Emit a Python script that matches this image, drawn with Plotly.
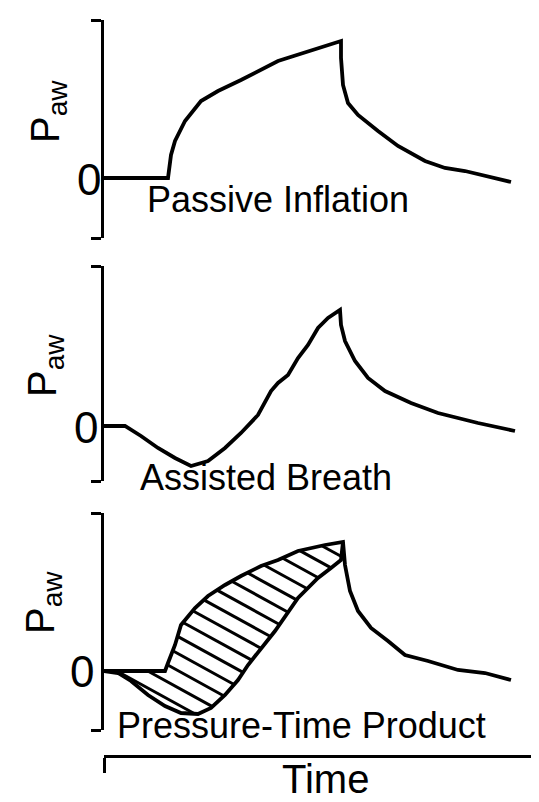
import numpy as np
import plotly.graph_objects as go

W, H = 539, 802
LEFT = 96  # pixel x of the pressure axes

# time axis (arbitrary units) and pressure (arbitrary units, 0 = baseline)
TIME_RANGE = [0, 443]

passive_t = [0, 64, 67, 71, 81, 97, 114, 137, 174, 204, 234, 237, 237, 239, 244, 254,
             274, 294, 321, 341, 361, 381, 407]
passive_p = [0, 0, 23, 37, 57, 77, 87, 98, 117, 127, 137, 137, 120, 93, 75, 63,
             47, 32, 17, 10, 7, 2, -4]

assisted_t = [0, 21, 37, 54, 71, 87, 104, 121, 137, 154, 167, 174, 184, 194, 204, 214,
              224, 236, 237, 241, 251, 264, 281, 307, 334, 354, 374, 411]
assisted_p = [0, 0, -10, -22, -32, -40, -35, -22, -7, 11, 35, 43, 51, 68, 81, 98,
              108, 116, 101, 85, 65, 48, 35, 23, 13, 8, 3, -5]

ptp_upper_t = [0, 61, 64, 71, 77, 91, 104, 121, 137, 157, 174, 194, 221, 239]
ptp_upper_p = [0, 0, 8, 26, 46, 63, 75, 86, 95, 105, 111, 120, 126, 129]
ptp_decay_t = [239, 241, 246, 254, 267, 284, 301, 324, 354, 381, 407]
ptp_decay_p = [129, 106, 80, 60, 43, 30, 16, 10, 1, -2, -9]
ptp_lower_t = [0, 14, 27, 44, 61, 77, 94, 107, 121, 134, 144, 157, 171, 194, 214, 227, 237, 239]
ptp_lower_p = [0, -2, -10, -24, -35, -42, -43, -37, -24, -9, 6, 23, 40, 73, 93, 103, 111, 129]

PANEL_LABELS = ["Passive Inflation", "Assisted Breath", "Pressure-Time Product"]
Y_RANGES = [[-60, 158], [-55, 160], [-59, 158]]
PANEL_PX = [(12, 230), (258, 473), (505, 722)]  # top / bottom pixel of each bracket
TIME_AXIS_PX = 748

LABEL_PX = [(137, 192), (130, 469), (107, 717)]
ZERO_PX = [(81, 171), (78, 419), (74, 663)]
PAW_PX = [(40, 104), (37, 358), (35, 595)]


def px2paper(x, y):
    return (x - LEFT) / (W - LEFT), 1 - y / H


def hatch(ut, up, lt, lp, slope, spacing):
    poly = list(zip(ut, up)) + list(zip(lt[::-1], lp[::-1]))
    offs = [p - slope * t for t, p in poly]
    xs, ys = [], []
    for c in np.arange(min(offs) + spacing * 0.5, max(offs), spacing):
        hits = []
        for (x1, y1), (x2, y2) in zip(poly, poly[1:] + poly[:1]):
            f1 = y1 - slope * x1 - c
            f2 = y2 - slope * x2 - c
            if (f1 > 0) != (f2 > 0):
                s = f1 / (f1 - f2)
                hits.append(x1 + s * (x2 - x1))
        hits.sort()
        for a, b in zip(hits[0::2], hits[1::2]):
            xs += [a, b, None]
            ys += [slope * a + c, slope * b + c, None]
    return xs, ys


fig = go.Figure()
black = "#000000"
curve = dict(color=black, width=3.8)

fig.add_trace(go.Scatter(x=passive_t, y=passive_p, mode="lines", line=curve, xaxis="x", yaxis="y"))
fig.add_trace(go.Scatter(x=assisted_t, y=assisted_p, mode="lines", line=curve, xaxis="x", yaxis="y2"))

# hatching of the pressure-time product area (pixel slope ~0.55 down to the right)
plot_w = W - LEFT
sx = plot_w / (TIME_RANGE[1] - TIME_RANGE[0])
sy = (PANEL_PX[2][1] - PANEL_PX[2][0]) / (Y_RANGES[2][1] - Y_RANGES[2][0])
hx, hy = hatch(ptp_upper_t, ptp_upper_p, ptp_lower_t, ptp_lower_p,
               slope=-0.55 * sx / sy, spacing=17 / sy)
fig.add_trace(go.Scatter(x=hx, y=hy, mode="lines", line=dict(color=black, width=3),
                         xaxis="x", yaxis="y3"))
fig.add_trace(go.Scatter(x=ptp_upper_t + ptp_decay_t[1:], y=ptp_upper_p + ptp_decay_p[1:],
                         mode="lines", line=curve, xaxis="x", yaxis="y3"))
fig.add_trace(go.Scatter(x=ptp_lower_t, y=ptp_lower_p, mode="lines", line=curve,
                         xaxis="x", yaxis="y3"))

layout = dict(
    width=W, height=H,
    margin=dict(l=LEFT, r=0, t=0, b=0),
    paper_bgcolor="white", plot_bgcolor="white",
    showlegend=False,
    font=dict(family="Liberation Sans, Arial, sans-serif", color=black),
    xaxis=dict(domain=[0, 1], range=TIME_RANGE, anchor="free", position=1 - TIME_AXIS_PX / H,
               showline=True, linecolor=black, linewidth=2.8, ticks="outside",
               tickvals=[TIME_RANGE[0]], ticklen=15, tickwidth=2.8, tickcolor=black,
               showticklabels=False, showgrid=False, zeroline=False),
)

annotations = []
for i in range(3):
    key = "yaxis" if i == 0 else f"yaxis{i + 1}"
    top, bot = PANEL_PX[i]
    lo, hi = Y_RANGES[i]
    layout[key] = dict(domain=[1 - bot / H, 1 - top / H], range=[lo, hi], anchor="x",
                       showline=True, linecolor=black, linewidth=3, ticks="outside",
                       tickvals=[lo, hi], ticklen=10, tickwidth=3, tickcolor=black,
                       showticklabels=False, showgrid=False, zeroline=False)
    lx, ly = px2paper(*LABEL_PX[i])
    annotations.append(dict(x=lx, y=ly, xref="paper", yref="paper", text=PANEL_LABELS[i],
                            showarrow=False, xanchor="left", yanchor="middle",
                            font=dict(size=36)))
    zx, zy = px2paper(*ZERO_PX[i])
    annotations.append(dict(x=zx, y=zy, xref="paper", yref="paper", text="0",
                            showarrow=False, xanchor="center", yanchor="middle",
                            font=dict(size=44)))
    px_, py_ = px2paper(*PAW_PX[i])
    annotations.append(dict(x=px_, y=py_, xref="paper", yref="paper",
                            text="P<sub>aw</sub>", textangle=-90, showarrow=False,
                            xanchor="center", yanchor="middle", font=dict(size=40)))

tx, ty = px2paper(317, 771)
annotations.append(dict(x=tx, y=ty, xref="paper", yref="paper", text="Time",
                        showarrow=False, xanchor="center", yanchor="middle",
                        font=dict(size=40)))
layout["annotations"] = annotations

fig.update_layout(**layout)
fig.write_html("out.html")
